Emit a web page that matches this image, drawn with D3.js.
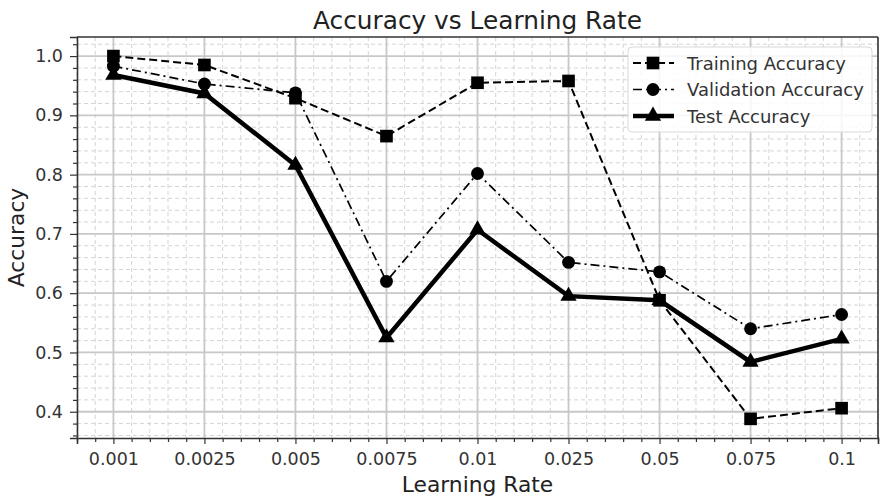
<!DOCTYPE html>
<html>
<head>
<meta charset="utf-8">
<script src="https://cdn.jsdelivr.net/npm/d3@7"></script>
<style>
  body { margin: 0; background: #fff; }
  text { font-family: "DejaVu Sans", sans-serif; }
</style>
</head>
<body>
<div id="chart"></div>
<script>
var rates = ["0.001", "0.0025", "0.005", "0.0075", "0.01", "0.025", "0.05", "0.075", "0.1"];
var trainAcc = [1.0, 0.985, 0.929, 0.865, 0.955, 0.958, 0.588, 0.388, 0.406];
var valAcc = [0.983, 0.953, 0.938, 0.62, 0.802, 0.652, 0.636, 0.54, 0.564];
var testAcc = [0.968, 0.937, 0.816, 0.525, 0.707, 0.595, 0.588, 0.484, 0.523];
var yTicks = [0.4, 0.5, 0.6, 0.7, 0.8, 0.9, 1.0];

var svgWidth = 880;
var svgHeight = 498;
var margin = { top: 37, right: 2, bottom: 60, left: 77 };
var width = svgWidth - margin.left - margin.right;
var height = svgHeight - margin.top - margin.bottom;

var svg = d3.select("#chart").append("svg")
  .attr("width", svgWidth)
  .attr("height", svgHeight);

var g = svg.append("g")
  .attr("transform", `translate(${margin.left}, ${margin.top})`);

var x = d3.scaleLinear().domain([-0.4, rates.length - 1 + 0.4]).range([0, width]);
var y = d3.scaleLinear().domain([0.3557, 1.0322]).range([height, 0]);

// minor positions
var xMinor = d3.range(-2, (rates.length - 1) * 5 + 3).map(function (i) { return i / 5; })
  .filter(function (v) { return v >= -0.4 && v <= 8.4 && Math.abs(v - Math.round(v)) > 1e-6; });
var yMinor = d3.range(36, 104, 2).map(function (i) { return i / 100; })
  .filter(function (v) { return Math.abs(v * 10 - Math.round(v * 10)) > 1e-6; });

// grid
g.append("g").selectAll("line").data(xMinor).enter().append("line")
  .attr("x1", function (d) { return x(d); }).attr("x2", function (d) { return x(d); })
  .attr("y1", 0).attr("y2", height)
  .attr("stroke", "#d4d4d4").attr("stroke-width", 1).attr("stroke-dasharray", "4,3");
g.append("g").selectAll("line").data(yMinor).enter().append("line")
  .attr("y1", function (d) { return y(d); }).attr("y2", function (d) { return y(d); })
  .attr("x1", 0).attr("x2", width)
  .attr("stroke", "#d4d4d4").attr("stroke-width", 1).attr("stroke-dasharray", "4,3");
g.append("g").selectAll("line").data(d3.range(rates.length)).enter().append("line")
  .attr("x1", function (d) { return x(d); }).attr("x2", function (d) { return x(d); })
  .attr("y1", 0).attr("y2", height)
  .attr("stroke", "#c8c8c8").attr("stroke-width", 1.8);
g.append("g").selectAll("line").data(yTicks).enter().append("line")
  .attr("y1", function (d) { return y(d); }).attr("y2", function (d) { return y(d); })
  .attr("x1", 0).attr("x2", width)
  .attr("stroke", "#c8c8c8").attr("stroke-width", 1.8);

// axes
var xAxis = g.append("g")
  .attr("transform", `translate(0, ${height})`)
  .call(d3.axisBottom(x).tickValues(d3.range(rates.length))
    .tickFormat(function (d) { return rates[d]; }).tickSize(6).tickPadding(9));
g.append("g")
  .attr("transform", `translate(0, ${height})`)
  .call(d3.axisBottom(x).tickValues(xMinor).tickFormat("").tickSize(4))
  .select(".domain").remove();
var yAxis = g.append("g")
  .call(d3.axisLeft(y).tickValues(yTicks).tickFormat(d3.format(".1f")).tickSize(7).tickPadding(7));
g.append("g")
  .call(d3.axisLeft(y).tickValues(yMinor).tickFormat("").tickSize(4))
  .select(".domain").remove();

g.selectAll(".tick text").attr("font-size", "17.5px").attr("fill", "#333")
  .style("font-family", "DejaVu Sans, sans-serif");
g.selectAll(".tick line").attr("stroke", "#333").attr("stroke-width", 1.2);
g.selectAll(".domain").attr("stroke", "#333").attr("stroke-width", 1.6);

// top/right spines
g.append("line").attr("x1", 0).attr("x2", width).attr("y1", 0).attr("y2", 0)
  .attr("stroke", "#333").attr("stroke-width", 1.6);
g.append("line").attr("x1", width).attr("x2", width).attr("y1", 0).attr("y2", height)
  .attr("stroke", "#333").attr("stroke-width", 1.6);

// series
var series = [
  { name: "Training Accuracy", values: trainAcc, dash: "8,4", width: 2, marker: d3.symbolSquare, size: 160 },
  { name: "Validation Accuracy", values: valAcc, dash: "9,4,2,4", width: 1.7, marker: d3.symbolCircle, size: 130 },
  { name: "Test Accuracy", values: testAcc, dash: null, width: 4.5, marker: d3.symbolTriangle, size: 115 }
];

var line = d3.line()
  .x(function (d, i) { return x(i); })
  .y(function (d) { return y(d); });

series.forEach(function (s) {
  g.append("path")
    .datum(s.values)
    .attr("d", line)
    .attr("fill", "none")
    .attr("stroke", "#000")
    .attr("stroke-width", s.width)
    .attr("stroke-dasharray", s.dash);
  g.selectAll(null).data(s.values).enter().append("path")
    .attr("d", d3.symbol().type(s.marker).size(s.size))
    .attr("transform", function (d, i) { return `translate(${x(i)}, ${y(d)})`; })
    .attr("fill", "#000");
});

// title and labels
svg.append("text").attr("x", margin.left + width / 2).attr("y", 29)
  .attr("text-anchor", "middle").attr("font-size", "24.8px").attr("fill", "#222")
  .text("Accuracy vs Learning Rate");
svg.append("text").attr("x", margin.left + width / 2).attr("y", 492)
  .attr("text-anchor", "middle").attr("font-size", "21.8px").attr("fill", "#222")
  .text("Learning Rate");
svg.append("text")
  .attr("transform", `translate(24, ${margin.top + height / 2}) rotate(-90)`)
  .attr("text-anchor", "middle").attr("font-size", "21.8px").attr("fill", "#222")
  .text("Accuracy");

// legend
var legend = svg.append("g").attr("transform", "translate(628, 47)");
legend.append("rect").attr("width", 244).attr("height", 85).attr("rx", 4)
  .attr("fill", "#fff").attr("fill-opacity", 0.85)
  .attr("stroke", "#d8d8d8").attr("stroke-width", 1);
series.forEach(function (s, i) {
  var ly = 16 + i * 26.5;
  legend.append("line").attr("x1", 5).attr("x2", 46).attr("y1", ly).attr("y2", ly)
    .attr("stroke", "#000").attr("stroke-width", s.width).attr("stroke-dasharray", s.dash);
  legend.append("path").attr("d", d3.symbol().type(s.marker).size(s.size))
    .attr("transform", `translate(25, ${ly})`).attr("fill", "#000");
  legend.append("text").attr("x", 59).attr("y", ly + 6.5)
    .attr("font-size", "18px").attr("fill", "#333").text(s.name);
});
</script>
</body>
</html>
